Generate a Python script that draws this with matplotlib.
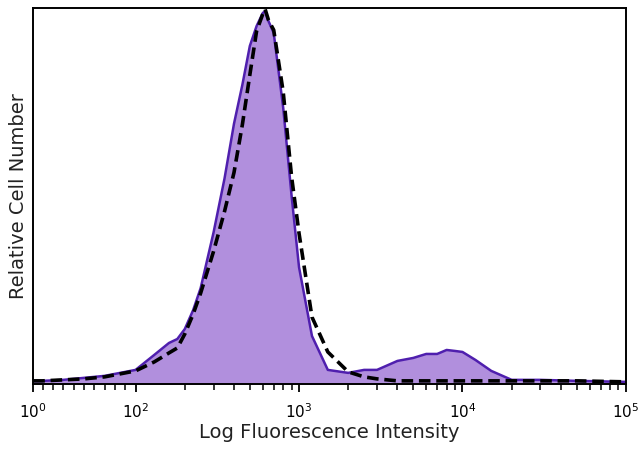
import matplotlib
matplotlib.use("Agg")
import matplotlib.pyplot as plt
import numpy as np

# intensidad de fluorescencia (eje x) y cuentas relativas de cada histograma
intensity = [1, 10, 30, 50, 70, 100, 130, 160, 180, 200, 225, 250, 300, 350,
             400, 450, 500, 550, 600, 620, 650, 700, 800, 900, 1000, 1200,
             1500, 2000, 2500, 3000, 4000, 5000, 6000, 7000, 8000, 9000,
             10000, 12000, 15000, 20000, 30000, 50000, 100000]
stained = [3, 3, 4, 6, 8, 14, 29, 41, 45, 55, 74, 96, 152, 206,
           261, 300, 339, 359, 372, 374, 364, 352, 277, 189, 117, 48,
           14, 11, 14, 14, 23, 26, 30, 30, 34, 33,
           32, 24, 13, 4, 4, 3, 2]
isotype = [3, 3, 4, 5, 7, 13, 22, 31, 36, 50, 70, 91, 133, 173,
           212, 260, 310, 354, 371, 376, 365, 355, 293, 208, 151, 67,
           32, 12, 7, 5, 3, 3, 3, 3, 3, 3,
           3, 3, 3, 3, 3, 3, 2]

tick_vals = [1, 100, 1000, 10000, 100000]
tick_labels = ['$10^{0}$', '$10^{2}$', '$10^{3}$', '$10^{4}$', '$10^{5}$']


def forward(v):
    # lineal por debajo de 100, logaritmico por encima
    v = np.asarray(v, dtype=float)
    return np.where(v >= 100, np.log10(np.maximum(v, 1e-9)),
                    2 - 0.626 * (100 - v) / 99)


def inverse(p):
    p = np.asarray(p, dtype=float)
    return np.where(p >= 2, 10 ** np.minimum(p, 300),
                    100 - (2 - p) * 99 / 0.626)


fig = plt.figure(figsize=(6.4, 4.5), dpi=100)
ax = fig.add_axes([0.052, 0.147, 0.926, 0.835])

ax.set_xscale('function', functions=(forward, inverse))

ax.fill_between(intensity, stained, color='#b18fdd', linewidth=0)
ax.plot(intensity, stained, color='#4f1fae', linewidth=1.8)
ax.plot(intensity, isotype, color='black', linewidth=2.6,
        linestyle=(0, (3.2, 1.6)))

ax.set_xlim(1, 100000)
ax.set_ylim(0, 377)

minor = list(range(10, 100, 10))
for d in [100, 1000, 10000]:
    minor += [k * d for k in range(2, 10)]
ax.set_xticks(tick_vals)
ax.set_xticklabels(tick_labels, fontsize=11)
ax.set_xticks(minor, minor=True)
ax.tick_params(axis='x', which='major', direction='out', length=6, width=1.3,
               pad=7)
ax.tick_params(axis='x', which='minor', direction='out', length=4, width=1.1)
ax.set_yticks([])

for s in ax.spines.values():
    s.set_linewidth(1.4)

ax.set_xlabel('Log Fluorescence Intensity', fontsize=14, color='#222222',
              labelpad=2)
ax.set_ylabel('Relative Cell Number', fontsize=14, color='#222222',
              labelpad=4)

fig.savefig('out.png', dpi=100)
